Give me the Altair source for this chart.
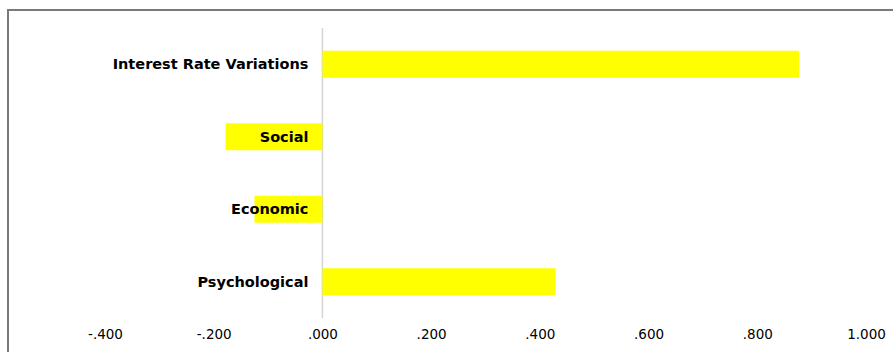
import altair as alt
import pandas as pd

categories = ["Interest Rate Variations", "Social", "Economic", "Psychological"]
values = [0.877, -0.178, -0.125, 0.429]
tick_values = [-0.4, -0.2, 0.0, 0.2, 0.4, 0.6, 0.8, 1.0]

df = pd.DataFrame({"category": categories, "value": values})

x_scale = alt.Scale(domain=[-0.4, 1.0], nice=False, zero=False)
y_scale = alt.Scale(domain=categories, paddingInner=0.63, paddingOuter=0.315)

base = alt.Chart(df)

frame = base.mark_rect(filled=False, stroke="#7a7a7a", strokeWidth=2, clip=False).encode(
    x=alt.value(-97), x2=alt.value(900), y=alt.value(-18), y2=alt.value(360)
).transform_filter(alt.datum.category == categories[0])

bars = base.mark_bar(color="#ffff00").encode(
    x=alt.X("value:Q", scale=x_scale,
            axis=alt.Axis(values=tick_values, title=None, domain=False, ticks=False,
                          grid=False, labelFlush=False, labelOverlap=False,
                          labelExpr="replace(replace(format(datum.value, '.3f'), '0.', '.'), '\u2212', '-')",
                          labelFont="DejaVu Sans", labelFontSize=13.5, labelColor="#000000",
                          labelPadding=9)),
    x2=alt.datum(0),
    y=alt.Y("category:N", scale=y_scale, axis=None, sort=categories),
)

zero = base.mark_rule(color="#d4d4d4", strokeWidth=1.5).encode(
    x=alt.datum(0), y=alt.value(0), y2=alt.value(290)
).transform_filter(alt.datum.category == categories[0])

labels = base.mark_text(align="right", baseline="middle", dx=-14, dy=1, fontWeight="bold",
                        font="DejaVu Sans", fontSize=14.5, color="#000000").encode(
    x=alt.datum(0),
    y=alt.Y("category:N", scale=y_scale, axis=None, sort=categories),
    text="category:N",
)

chart = alt.layer(frame, zero, bars, labels).properties(
    width=761, height=290,
    padding={"left": 105, "top": 28, "right": 27, "bottom": 34},
    autosize=alt.AutoSizeParams(type="none"),
    background="white",
).configure_view(stroke=None)

chart.save("out.html", embed_options={"renderer": "svg", "actions": False})
